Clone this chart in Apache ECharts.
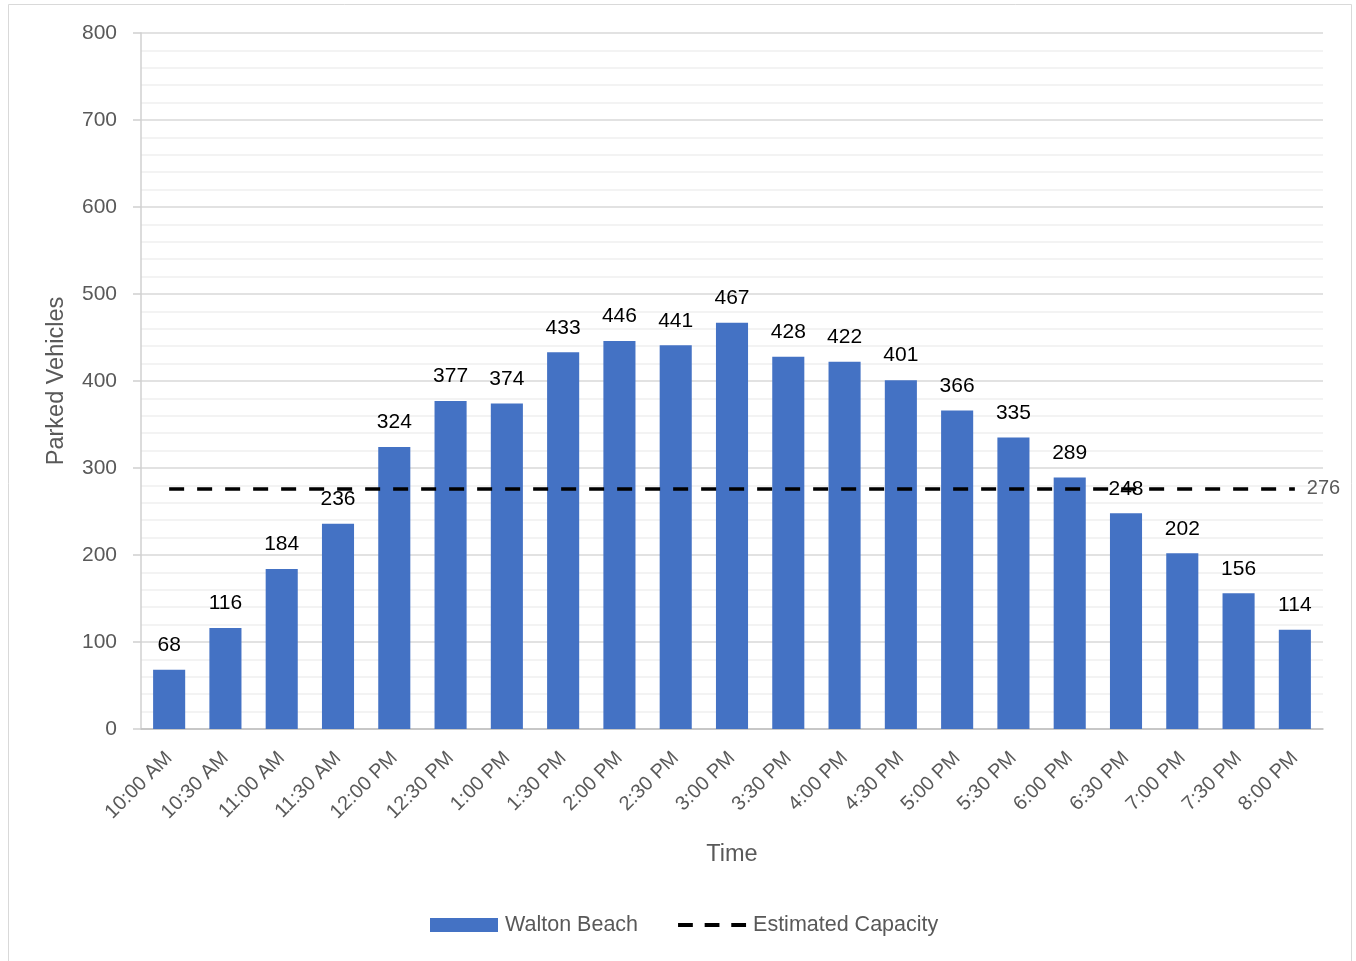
<!DOCTYPE html>
<html>
<head>
<meta charset="utf-8">
<script src="https://cdn.jsdelivr.net/npm/echarts@6/dist/echarts.min.js"></script>
<style>
  html, body { margin: 0; padding: 0; background: #fff; }
  #chart { width: 1356px; height: 961px; }
</style>
</head>
<body>
<div id="chart"></div>
<script>
// Half-hourly parked vehicle counts at Walton Beach
const categories = ['10:00 AM', '10:30 AM', '11:00 AM', '11:30 AM', '12:00 PM', '12:30 PM',
  '1:00 PM', '1:30 PM', '2:00 PM', '2:30 PM', '3:00 PM', '3:30 PM', '4:00 PM', '4:30 PM',
  '5:00 PM', '5:30 PM', '6:00 PM', '6:30 PM', '7:00 PM', '7:30 PM', '8:00 PM'];
const parked = [68, 116, 184, 236, 324, 377, 374, 433, 446, 441, 467, 428, 422, 401,
  366, 335, 289, 248, 202, 156, 114];
const capacity = 276;
const yTicks = [0, 100, 200, 300, 400, 500, 600, 700, 800];

const FONT = '"Liberation Sans", Arial, sans-serif';
const GREY = '#595959';

const chart = echarts.init(document.getElementById('chart'), null, { renderer: 'canvas' });

chart.setOption({
  backgroundColor: '#ffffff',
  animation: false,
  textStyle: { fontFamily: FONT },
  graphic: [{
    type: 'rect',
    shape: { x: 8.5, y: 4.5, width: 1343, height: 970 },
    style: { fill: 'none', stroke: '#d9d9d9', lineWidth: 1 },
    silent: true
  }],
  grid: { left: 141, right: 33, top: 33, bottom: 232, containLabel: false },
  legend: {
    top: 909,
    left: 425,
    itemGap: 40,
    itemWidth: 68,
    itemHeight: 14,
    symbolKeepAspect: true,
    textStyle: { fontFamily: FONT, fontSize: 21.5, color: GREY, padding: [0, 0, 0, 2] },
    data: [
      { name: 'Walton Beach', icon: 'rect' },
      { name: 'Estimated Capacity', icon: 'path://M0,0h15v4h-15z M27,0h15v4h-15z M54,0h15v4h-15z' }
    ]
  },
  xAxis: {
    type: 'category',
    data: categories,
    name: 'Time',
    nameLocation: 'middle',
    nameGap: 114,
    nameTextStyle: { fontFamily: FONT, fontSize: 23.5, color: GREY },
    axisLine: { show: true, lineStyle: { color: '#bfbfbf', width: 1.5 } },
    axisTick: { show: false },
    axisLabel: {
      rotate: 45,
      interval: 0,
      margin: 26,
      fontFamily: FONT,
      fontSize: 20,
      color: GREY
    },
    splitLine: { show: false }
  },
  yAxis: {
    type: 'value',
    min: yTicks[0],
    max: yTicks[yTicks.length - 1],
    interval: 100,
    name: 'Parked Vehicles',
    nameLocation: 'middle',
    nameGap: 72,
    nameRotate: 90,
    nameTextStyle: { fontFamily: FONT, fontSize: 23.5, color: GREY },
    axisLine: { show: true, lineStyle: { color: '#d0d0d0', width: 1.5 } },
    axisTick: { show: true, length: 8, lineStyle: { color: '#d0d0d0', width: 1.5 } },
    axisLabel: { fontFamily: FONT, fontSize: 21, color: GREY, margin: 24 },
    splitLine: { show: true, lineStyle: { color: '#d9d9d9', width: 1.5 } },
    minorTick: { show: false, splitNumber: 5 },
    minorSplitLine: { show: true, lineStyle: { color: '#f0f0f0', width: 1.5 } }
  },
  series: [
    {
      name: 'Walton Beach',
      type: 'bar',
      data: parked,
      barCategoryGap: '43%',
      itemStyle: { color: '#4472c4' },
      label: {
        show: true,
        position: 'top',
        distance: 14,
        fontFamily: FONT,
        fontSize: 21,
        color: '#000000'
      },
      z: 2
    },
    {
      name: 'Estimated Capacity',
      type: 'line',
      data: categories.map(() => capacity),
      symbol: 'none',
      lineStyle: { color: '#000000', width: 3.5, type: [15, 13] },
      itemStyle: { color: '#000000' },
      endLabel: {
        show: true,
        distance: 12,
        fontFamily: FONT,
        fontSize: 20,
        color: GREY,
        formatter: (p) => String(p.value)
      },
      z: 3
    }
  ]
});
</script>
</body>
</html>
